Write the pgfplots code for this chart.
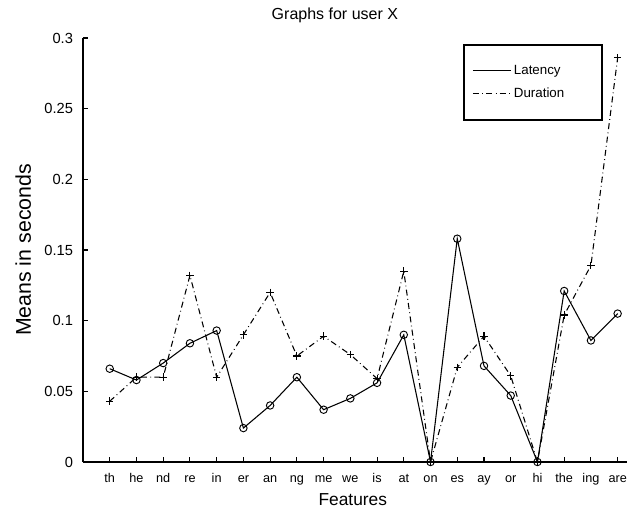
\documentclass[border=0pt]{standalone}
\usepackage{pgfplots}
\pgfplotsset{compat=1.18}
\usepackage{fontspec}
\setmainfont{Liberation Sans}

\pgfplotstableread{
x lat dur
0  0.066 0.043
1  0.058 0.060
2  0.070 0.060
3  0.084 0.132
4  0.093 0.060
5  0.024 0.090
6  0.040 0.120
7  0.060 0.075
8  0.037 0.089
9  0.045 0.076
10 0.056 0.059
11 0.090 0.135
12 0.000 0.000
13 0.158 0.067
14 0.068 0.089
15 0.047 0.061
16 0.000 0.000
17 0.121 0.104
18 0.086 0.139
19 0.105 0.286
}\datatable

\begin{document}
\begin{tikzpicture}
\begin{axis}[
  scale only axis, width=408pt, height=318pt,
  xmin=-1, xmax=19.35, ymin=0, ymax=0.3,
  axis lines*=left,
  axis line style={line width=1pt, black},
  tick align=inside,
  major tick length=4pt,
  tick style={line width=0.8pt, black},
  xtick={0,1,2,3,4,5,6,7,8,9,10,11,12,13,14,15,16,17,18,19},
  xticklabels={th,he,nd,re,in,er,an,ng,me,we,is,at,on,es,ay,or,hi,the,ing,are},
  ytick={0,0.05,0.1,0.15,0.2,0.25,0.3},
  yticklabels={0,0.05,0.1,0.15,0.2,0.25,0.3},
  xticklabel style={font=\fontsize{9.5}{11}\selectfont, anchor=base, yshift=-15pt},
  yticklabel style={font=\fontsize{11}{13}\selectfont, anchor=east, xshift=-4pt},
  title={Graphs for user X},
  title style={font=\fontsize{12}{14}\selectfont, at={(0.463,1)}, anchor=base, yshift=8pt},
  xlabel={Features},
  xlabel style={font=\fontsize{13}{15}\selectfont, at={(axis description cs:0.496,-0.088)}, anchor=center},
  ylabel={Means in seconds},
  ylabel style={font=\fontsize{16}{18}\selectfont, at={(axis description cs:-0.11,0.5)}, anchor=center},
  legend style={at={(rel axis cs:0.699,0.987)}, anchor=north west, draw=black, line width=1.5pt,
    font=\fontsize{10}{12}\selectfont, inner xsep=6pt, inner ysep=13.5pt, row sep=4.5pt},
  legend cell align=left,
  legend image code/.code={\draw[#1] (0cm,0cm) -- (1.0cm,0cm);},
]
\addplot[black, line width=0.8pt, mark=o, mark size=2.8pt, mark options={solid, line width=0.7pt}]
  table[x=x, y=lat]{\datatable};
\addlegendentry{\makebox[58pt][l]{Latency}}
\addplot[black, line width=0.8pt, dash pattern=on 4.5pt off 2.5pt on 0.6pt off 2.5pt,
  mark=+, mark size=2.8pt, mark options={solid, line width=0.8pt}]
  table[x=x, y=dur]{\datatable};
\addlegendentry{\makebox[58pt][l]{Duration}}
\coordinate (SW) at (rel axis cs:0,0);
\coordinate (NE) at (rel axis cs:1,1);
\end{axis}
\pgfresetboundingbox
\path[use as bounding box] ([xshift=-62.25pt,yshift=-33.75pt]SW) rectangle ([yshift=28.5pt]NE);
\end{tikzpicture}
\end{document}
